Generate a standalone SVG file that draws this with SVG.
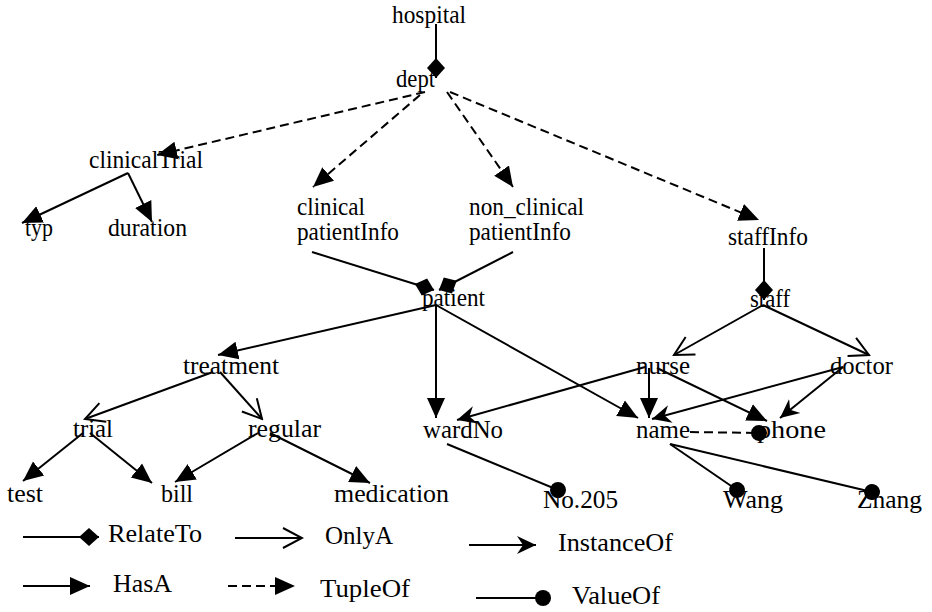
<svg xmlns="http://www.w3.org/2000/svg" width="932" height="612" viewBox="0 0 932 612">
<style>
text{font-family:"Liberation Serif","Times New Roman",serif;font-size:25px;fill:#000}
.c line{stroke:#000;stroke-width:2;fill:none}
.d{stroke-dasharray:9,5}
</style>
<defs>
<marker id="dia" viewBox="0 -10 20 20" refX="20" refY="0" markerWidth="20" markerHeight="20" markerUnits="userSpaceOnUse" orient="auto"><path d="M0,0 L10,-9 L20,0 L10,9 z" fill="#000"/></marker>
<marker id="has" viewBox="0 -10 20 20" refX="20" refY="0" markerWidth="20" markerHeight="20" markerUnits="userSpaceOnUse" orient="auto"><path d="M0,-9 L20,0 L0,9 z" fill="#000"/></marker>
<marker id="inst" viewBox="0 -10 20 20" refX="19" refY="0" markerWidth="20" markerHeight="20" markerUnits="userSpaceOnUse" orient="auto"><path d="M0,-9 L19,0 L0,9 L6,0 z" fill="#000"/></marker>
<marker id="only" viewBox="-2 -12 24 24" refX="20" refY="0" markerWidth="24" markerHeight="24" markerUnits="userSpaceOnUse" orient="auto"><path d="M1,-10 L20,0 L1,10" fill="none" stroke="#000" stroke-width="2"/></marker>
<marker id="dot" viewBox="-10 -10 20 20" refX="0" refY="0" markerWidth="20" markerHeight="20" markerUnits="userSpaceOnUse" orient="auto"><circle cx="0" cy="0" r="8" fill="#000"/></marker>
</defs>

<g id="connectors" class="c">
<line x1="436" y1="24" x2="436" y2="78" marker-end="url(#dia)"/>
<line class="d" x1="425" y1="92" x2="157" y2="155" marker-end="url(#has)"/>
<line class="d" x1="420" y1="95" x2="313" y2="187" marker-end="url(#has)"/>
<line class="d" x1="447" y1="92" x2="513" y2="187" marker-end="url(#has)"/>
<line class="d" x1="450" y1="92" x2="759" y2="220" marker-end="url(#has)"/>
<line x1="128" y1="173" x2="22" y2="223" marker-end="url(#has)"/>
<line x1="128" y1="173" x2="152" y2="222" marker-end="url(#has)"/>
<line x1="312" y1="252" x2="434" y2="290" marker-end="url(#dia)"/>
<line x1="513" y1="252" x2="439" y2="290" marker-end="url(#dia)"/>
<line x1="764" y1="248" x2="764" y2="300" marker-end="url(#dia)"/>
<line x1="436" y1="305" x2="218" y2="355" marker-end="url(#has)"/>
<line x1="436" y1="305" x2="436" y2="418" marker-end="url(#has)"/>
<line x1="436" y1="305" x2="638" y2="418" marker-end="url(#has)"/>
<line x1="763" y1="305" x2="674" y2="355" marker-end="url(#only)"/>
<line x1="763" y1="305" x2="869" y2="355" marker-end="url(#only)"/>
<line x1="213" y1="372" x2="85" y2="419" marker-end="url(#only)"/>
<line x1="220" y1="372" x2="262" y2="419" marker-end="url(#only)"/>
<line x1="83" y1="433" x2="23" y2="481" marker-end="url(#has)"/>
<line x1="90" y1="433" x2="152" y2="483" marker-end="url(#has)"/>
<line x1="258" y1="433" x2="175" y2="482" marker-end="url(#has)"/>
<line x1="270" y1="433" x2="370" y2="483" marker-end="url(#has)"/>
<line x1="645" y1="367" x2="457" y2="420" marker-end="url(#inst)"/>
<line x1="649" y1="368" x2="649" y2="418" marker-end="url(#has)"/>
<line x1="657" y1="368" x2="767" y2="421" marker-end="url(#has)"/>
<line x1="843" y1="367" x2="652" y2="419" marker-end="url(#inst)"/>
<line x1="843" y1="367" x2="780" y2="418" marker-end="url(#inst)"/>
<line x1="447" y1="444" x2="558" y2="490" marker-end="url(#dot)"/>
<line class="d" x1="690" y1="432" x2="759" y2="433" marker-end="url(#dot)"/>
<line x1="670" y1="444" x2="737" y2="490" marker-end="url(#dot)"/>
<line x1="670" y1="444" x2="872" y2="492" marker-end="url(#dot)"/>
</g>

<g id="hospital"><text x="392" y="23" textLength="74" lengthAdjust="spacingAndGlyphs">hospital</text></g>
<g id="dept"><text x="396" y="87" textLength="39" lengthAdjust="spacingAndGlyphs">dept</text></g>
<g id="clinicalTrial"><text x="89" y="168" textLength="114" lengthAdjust="spacingAndGlyphs">clinicalTrial</text></g>
<g id="typ"><text x="25" y="236" textLength="28" lengthAdjust="spacingAndGlyphs">typ</text></g>
<g id="duration"><text x="108" y="236" textLength="79" lengthAdjust="spacingAndGlyphs">duration</text></g>
<g id="clinicalPatientInfo"><text x="297" y="215" textLength="68" lengthAdjust="spacingAndGlyphs">clinical</text><text x="297" y="240" textLength="102" lengthAdjust="spacingAndGlyphs">patientInfo</text></g>
<g id="nonClinicalPatientInfo"><text x="469" y="215" textLength="115" lengthAdjust="spacingAndGlyphs">non_clinical</text><text x="469" y="240" textLength="102" lengthAdjust="spacingAndGlyphs">patientInfo</text></g>
<g id="staffInfo"><text x="728" y="245" textLength="80" lengthAdjust="spacingAndGlyphs">staffInfo</text></g>
<g id="patient"><text x="422" y="306" textLength="63" lengthAdjust="spacingAndGlyphs">patient</text></g>
<g id="staff"><text x="750" y="307" textLength="40" lengthAdjust="spacingAndGlyphs">staff</text></g>
<g id="treatment"><text x="183" y="374" textLength="96" lengthAdjust="spacingAndGlyphs">treatment</text></g>
<g id="nurse"><text x="636" y="374" textLength="54" lengthAdjust="spacingAndGlyphs">nurse</text></g>
<g id="doctor"><text x="830" y="374" textLength="63" lengthAdjust="spacingAndGlyphs">doctor</text></g>
<g id="trial"><text x="73" y="437" textLength="40" lengthAdjust="spacingAndGlyphs">trial</text></g>
<g id="regular"><text x="248" y="437" textLength="73" lengthAdjust="spacingAndGlyphs">regular</text></g>
<g id="wardNo"><text x="423" y="438" textLength="80" lengthAdjust="spacingAndGlyphs">wardNo</text></g>
<g id="name"><text x="636" y="438" textLength="54" lengthAdjust="spacingAndGlyphs">name</text></g>
<g id="phone"><text x="757" y="438" textLength="69" lengthAdjust="spacingAndGlyphs">phone</text></g>
<g id="test"><text x="7" y="502" textLength="36" lengthAdjust="spacingAndGlyphs">test</text></g>
<g id="bill"><text x="161" y="502" textLength="32" lengthAdjust="spacingAndGlyphs">bill</text></g>
<g id="medication"><text x="334" y="502" textLength="115" lengthAdjust="spacingAndGlyphs">medication</text></g>
<g id="no205"><text x="543" y="508" textLength="75" lengthAdjust="spacingAndGlyphs">No.205</text></g>
<g id="wang"><text x="723" y="508" textLength="60" lengthAdjust="spacingAndGlyphs">Wang</text></g>
<g id="zhang"><text x="857" y="508" textLength="65" lengthAdjust="spacingAndGlyphs">Zhang</text></g>

<g id="legend" class="c">
<line x1="23" y1="537" x2="99" y2="537" marker-end="url(#dia)"/>
<text x="108" y="542" textLength="94" lengthAdjust="spacingAndGlyphs">RelateTo</text>
<line x1="235" y1="538" x2="302" y2="538" marker-end="url(#only)"/>
<text x="325" y="544" textLength="68" lengthAdjust="spacingAndGlyphs">OnlyA</text>
<line x1="469" y1="545" x2="536" y2="545" marker-end="url(#inst)"/>
<text x="558" y="551" textLength="115" lengthAdjust="spacingAndGlyphs">InstanceOf</text>
<line x1="23" y1="586" x2="90" y2="586" marker-end="url(#has)"/>
<text x="113" y="592" textLength="59" lengthAdjust="spacingAndGlyphs">HasA</text>
<line class="d" x1="228" y1="586" x2="295" y2="586" marker-end="url(#has)"/>
<text x="320" y="597" textLength="90" lengthAdjust="spacingAndGlyphs">TupleOf</text>
<line x1="476" y1="598" x2="543" y2="598" marker-end="url(#dot)"/>
<text x="572" y="604" textLength="88" lengthAdjust="spacingAndGlyphs">ValueOf</text>
</g>
</svg>
